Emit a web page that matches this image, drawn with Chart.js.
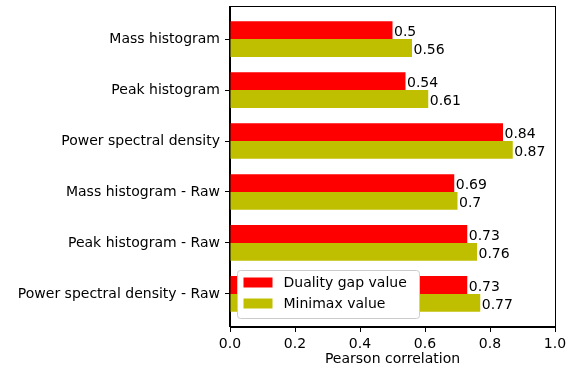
<!DOCTYPE html>
<html>
<head>
<meta charset="utf-8">
<script src="https://cdn.jsdelivr.net/npm/chart.js@4/dist/chart.umd.min.js"></script>
<style>
  html, body { margin: 0; padding: 0; background: #fff; }
</style>
</head>
<body>
<canvas id="corr-chart" width="568" height="368"></canvas>
<script>
// Feature sets, top to bottom
const features = [
  'Mass histogram',
  'Peak histogram',
  'Power spectral density',
  'Mass histogram - Raw',
  'Peak histogram - Raw',
  'Power spectral density - Raw'
];
const dualityGap = [0.5, 0.54, 0.84, 0.69, 0.73, 0.73];
const minimax = [0.56, 0.61, 0.87, 0.7, 0.76, 0.77];
const xTicks = [0.0, 0.2, 0.4, 0.6, 0.8, 1.0];

const FONT = 'DejaVu Sans';
const FSIZE = 14;
const RED = '#ff0000';
const OLIVE = '#bfbf00';

// Value labels at the end of each bar
const barLabels = {
  id: 'barLabels',
  afterDatasetsDraw(chart) {
    const ctx = chart.ctx;
    ctx.save();
    ctx.font = FSIZE + 'px "' + FONT + '"';
    ctx.fillStyle = '#000';
    ctx.textAlign = 'left';
    ctx.textBaseline = 'middle';
    chart.data.datasets.forEach(function(ds, di) {
      chart.getDatasetMeta(di).data.forEach(function(bar, i) {
        ctx.fillText(String(ds.data[i].x), bar.x + 1.5, bar.y + 2.5);
      });
    });
    ctx.restore();
  }
};

// Full box around the plot plus the legend in the lower left corner
const frameAndLegend = {
  id: 'frameAndLegend',
  afterDraw(chart) {
    const ctx = chart.ctx;
    const a = chart.chartArea;
    ctx.save();
    ctx.strokeStyle = '#000';
    ctx.lineWidth = 1;
    ctx.strokeRect(Math.round(a.left) - 0.5, Math.round(a.top) + 0.5,
      Math.round(a.right - a.left) + 1, Math.round(a.bottom - a.top) - 1);

    const x0 = a.left + 7.5, y0 = 270.5, w = 182, h = 48;
    ctx.beginPath();
    ctx.roundRect(x0, y0, w, h, 3);
    ctx.fillStyle = '#fff';
    ctx.fill();
    ctx.strokeStyle = '#cccccc';
    ctx.stroke();

    ctx.font = FSIZE + 'px "' + FONT + '"';
    ctx.textBaseline = 'middle';
    ctx.textAlign = 'left';
    chart.data.datasets.forEach(function(ds, i) {
      const cy = y0 + 12 + i * 21;
      ctx.fillStyle = ds.backgroundColor;
      ctx.fillRect(x0 + 6, cy - 5, 29, 10);
      ctx.fillStyle = '#000';
      ctx.fillText(ds.label, x0 + 46, cy + 1);
    });
    ctx.restore();
  }
};

const toPoints = vals => vals.map((v, i) => ({ x: v, y: i }));

new Chart(document.getElementById('corr-chart'), {
  type: 'bar',
  data: {
    datasets: [
      {
        label: 'Duality gap value',
        data: toPoints(dualityGap),
        backgroundColor: RED,
        categoryPercentage: 0.7,
        barPercentage: 1.0
      },
      {
        label: 'Minimax value',
        data: toPoints(minimax),
        backgroundColor: OLIVE,
        categoryPercentage: 0.7,
        barPercentage: 1.0
      }
    ]
  },
  options: {
    indexAxis: 'y',
    responsive: false,
    animation: false,
    layout: { padding: { top: 6, right: 13, left: 0, bottom: 0 } },
    plugins: {
      legend: { display: false },
      tooltip: { enabled: false }
    },
    scales: {
      x: {
        type: 'linear',
        min: 0,
        max: 1,
        afterBuildTicks: s => { s.ticks = xTicks.map(v => ({ value: v })); },
        afterFit: s => {
          s.height = 41;
          s.paddingLeft = 0;
          s.paddingRight = 0;
        },
        border: { display: true, color: '#000', width: 1 },
        grid: { drawOnChartArea: false, drawTicks: true, tickLength: 5, tickColor: '#000' },
        ticks: {
          color: '#000',
          padding: 4,
          maxRotation: 0,
          autoSkip: false,
          font: { family: FONT, size: FSIZE },
          callback: v => v.toFixed(1)
        },
        title: {
          display: true,
          text: 'Pearson correlation',
          color: '#000',
          padding: { top: 2, bottom: 0 },
          font: { family: FONT, size: FSIZE }
        }
      },
      y: {
        type: 'linear',
        reverse: true,
        offset: false,
        bounds: 'data',
        min: -0.65,
        max: features.length - 1 + 0.65,
        afterBuildTicks: s => { s.ticks = features.map((_, i) => ({ value: i })); },
        afterFit: s => {
          s.width = 230;
          s.paddingTop = 0;
          s.paddingBottom = 0;
        },
        border: { display: true, color: '#000', width: 1 },
        grid: { offset: false, drawOnChartArea: false, drawTicks: true, tickLength: 5, tickColor: '#000' },
        ticks: {
          color: '#000',
          padding: 5,
          autoSkip: false,
          font: { family: FONT, size: FSIZE },
          callback: v => features[v]
        }
      }
    }
  },
  plugins: [barLabels, frameAndLegend]
});
</script>
</body>
</html>
